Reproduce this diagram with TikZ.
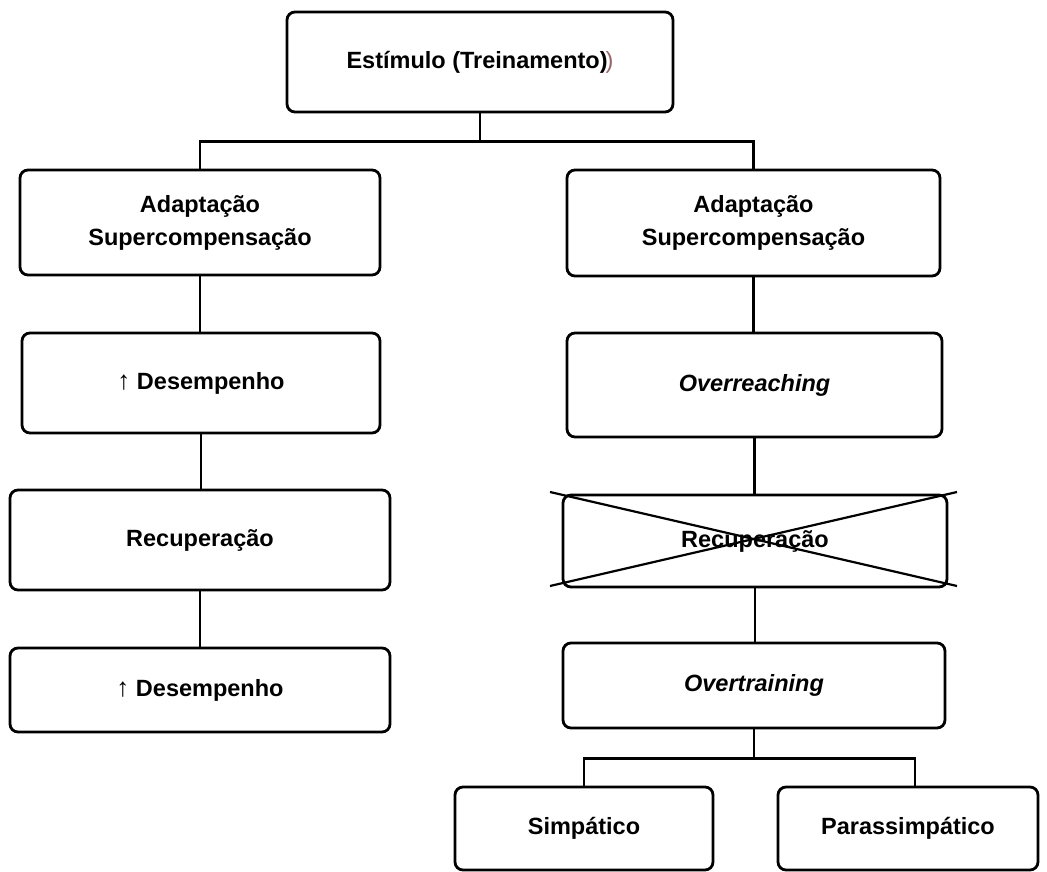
\documentclass[tikz,border=0pt]{standalone}
\usepackage{fontspec}
\setmainfont{Liberation Sans}
\begin{document}
\begin{tikzpicture}[x=1pt,y=-1pt,
  box/.style={draw=black, line width=2.8pt, rounded corners=8pt, inner sep=0pt,
    align=center, font=\fontsize{23.5}{33}\selectfont\bfseries},
  conn/.style={draw=black, line width=2.8pt},
  crossline/.style={draw=black, line width=2.2pt}]
\useasboundingbox (0,0) rectangle (1047,872);
% nodes
\node[box, minimum width=386pt, minimum height=100pt] (top) at (480,62) {Estímulo (Treinamento)\kern-2pt{\mdseries\color{blue!35!orange!60!gray})}};
\node[box, minimum width=360pt, minimum height=105pt] (L1) at (200,222.5) {Adaptação\\Supercompensação};
\node[box, minimum width=373pt, minimum height=106pt] (R1) at (753.5,223) {Adaptação\\Supercompensação};
\node[box, minimum width=358pt, minimum height=100pt] (L2) at (201,383) {{\mdseries\fontsize{26}{33}\selectfont ↑} Desempenho};
\node[box, minimum width=375pt, minimum height=104pt] (R2) at (754.5,385) {\itshape Overreaching};
\node[box, minimum width=380pt, minimum height=100pt] (L3) at (200,540) {Recuperação};
\node[box, minimum width=384pt, minimum height=92pt] (R3) at (755,541) {Recuperação};
\node[box, minimum width=380pt, minimum height=84pt] (L4) at (200,690) {{\mdseries\fontsize{26}{33}\selectfont ↑} Desempenho};
\node[box, minimum width=382pt, minimum height=85pt] (R4) at (754,685.5) {\itshape Overtraining};
\node[box, minimum width=258pt, minimum height=83pt] (B1) at (584,828.5) {Simpático};
\node[box, minimum width=260pt, minimum height=83pt] (B2) at (908,828.5) {Parassimpático};
% coordinates
\coordinate (b2top) at (915,787);
\coordinate (xa) at (550,492);
\coordinate (xb) at (957,586);
\coordinate (xc) at (550,586);
\coordinate (xd) at (957,492);
% connectors
\draw[conn] (top.south) -- ++(0,28) -| (L1.north);
\draw[conn] (top.south) -- ++(0,28) -| (R1.north);
\draw[conn] (L1.south) -- (L1.south |- L2.north);
\draw[conn] (L2.south) -- (L2.south |- L3.north);
\draw[conn] (L3.south) -- (L3.south |- L4.north);
\draw[conn] (R1.south) -- (R1.south |- R2.north);
\draw[conn] (R2.south) -- (R2.south |- R3.north);
\draw[conn] (R3.south) -- (R3.south |- R4.north);
\draw[conn] (R4.south) -- ++(0,29) -| (B1.north);
\draw[conn] (R4.south) -- ++(0,29) -| (b2top);
% cross
\draw[crossline] (xa) -- (xb);
\draw[crossline] (xc) -- (xd);
\end{tikzpicture}
\end{document}
